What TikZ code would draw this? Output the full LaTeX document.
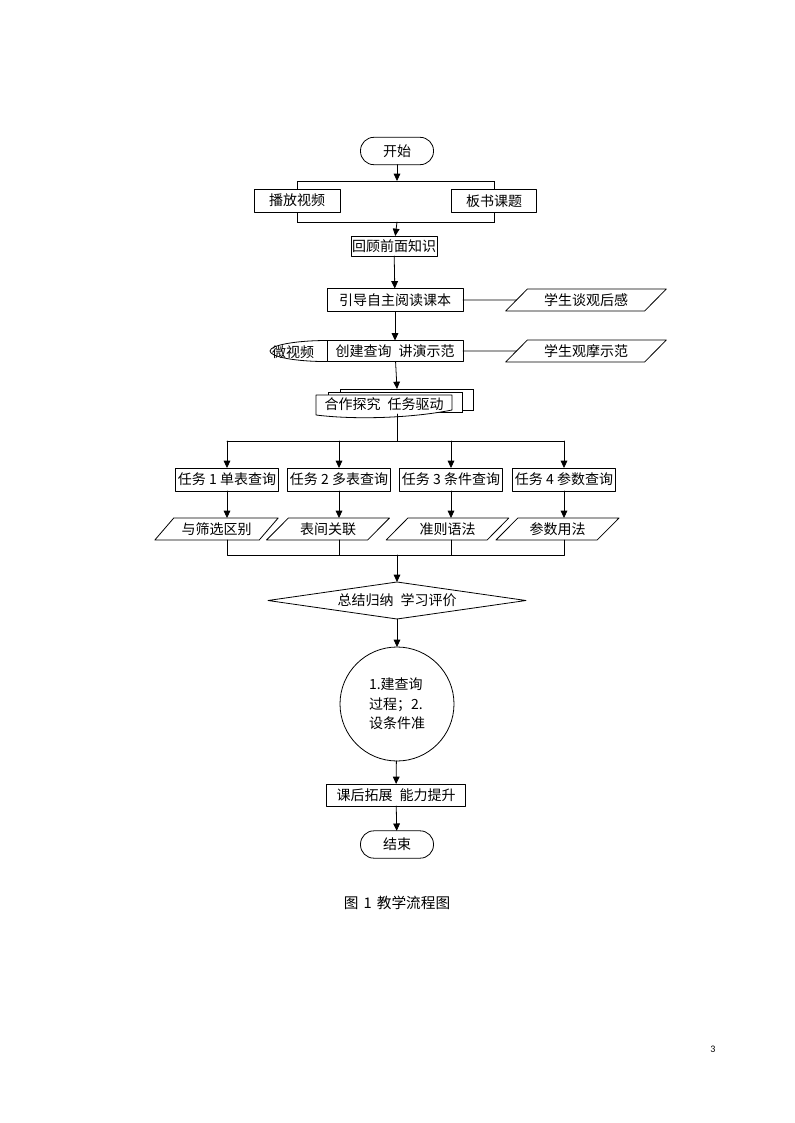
\documentclass[tikz,border=0pt]{standalone}
\usepackage{fontspec}
\setmainfont{Noto Sans CJK SC}
\newfontfamily\pagefont{Carlito}
\usepackage{tikz}
\usetikzlibrary{arrows.meta,positioning,calc,shapes.geometric,backgrounds}
\tikzset{
    every picture/.style={line cap=round,line join=round},
    flowbox/.style={draw,fill=white,line width=0.6pt,
      minimum height=17.25pt,inner sep=0pt,outer sep=0pt},
    termbox/.style={draw,fill=white,line width=0.6pt,rounded corners=10pt,
      minimum width=54.75pt,minimum height=20.5pt,inner sep=0pt,outer sep=0pt},
    slantbox/.style={draw,fill=white,line width=0.6pt,trapezium,
      trapezium left angle=40,trapezium right angle=140,trapezium stretches=true,
      minimum height=16.5pt,inner sep=0pt,outer sep=0pt},
    docbox/.style={minimum width=102pt,minimum height=14.25pt,inner sep=0pt,outer sep=0pt},
    choicebox/.style={draw,fill=white,line width=0.6pt,diamond,aspect=7,
      minimum width=193.5pt,minimum height=27.75pt,inner sep=0pt,outer sep=0pt},
    notebox/.style={draw,fill=white,line width=0.6pt,circle,minimum size=85.5pt,
      inner sep=0pt,outer sep=0pt,align=left,font=\fontsize{10.5}{14.6}\selectfont},
    flowarrow/.style={-{Triangle[length=5.5pt,width=5pt]},line width=0.6pt},
    flowline/.style={line width=0.6pt}
}
\newcommand{\gap}{\hspace{0.5em}}

\begin{document}
\begin{tikzpicture}[x=0.75pt,y=-0.75pt,font=\fontsize{10.5}{12.6}\selectfont]
  \useasboundingbox (0,0) rectangle (794,1123);

  \node[termbox] (start) at (397,151) {开始};
  \coordinate (fork) at (397,181);
  \coordinate (merge) at (397,222);
  \node[flowbox,minimum width=64.5pt] (video) at (297,200.5) {播放视频};
  \node[flowbox,minimum width=64pt] (title) at (494,200.8) {板书课题};
  \node[flowbox,minimum width=64.5pt,minimum height=15pt] (review) at (394,246) {回顾前面知识};
  \node[flowbox,minimum width=102pt] (guide) at (395,300) {引导自主阅读课本};
  \node[slantbox,minimum width=121.5pt] (feel) at (586,300) {学生谈观后感};
  \node[flowbox,minimum width=102pt,minimum height=15.75pt] (demo) at (395,351) {创建查询\gap 讲演示范};
  \node[slantbox,minimum width=121.5pt] (watch) at (586,351) {学生观摩示范};
  \draw[flowline] (demo.north west) arc[start angle=90,end angle=270,x radius=42.75pt,y radius=7.9pt];
  \node (micro) at (293,352) {微视频};

  \coordinate (cooptop) at (397,389);
  \node[docbox] (coop) at (384,404.5) {};
  \coordinate (split) at (397,441);

  \node[flowbox,minimum width=77.25pt] (t1) at (227,479.5) {任务 1 单表查询};
  \node[flowbox,minimum width=77.25pt] (t2) at (339,479.5) {任务 2 多表查询};
  \node[flowbox,minimum width=77.25pt] (t3) at (451,479.5) {任务 3 条件查询};
  \node[flowbox,minimum width=77.25pt] (t4) at (564,479.5) {任务 4 参数查询};
  \node[slantbox,minimum width=92.5pt] (p1) at (216.5,529) {与筛选区别};
  \node[slantbox,minimum width=92.5pt] (p2) at (328,529) {表间关联};
  \node[slantbox,minimum width=92.5pt] (p3) at (447.5,529) {准则语法};
  \node[slantbox,minimum width=92.5pt] (p4) at (557.5,529) {参数用法};
  \coordinate (join) at (397,555);

  \node[choicebox] (sum) at (397,600.5) {总结归纳\gap 学习评价};
  \node[notebox] (key) at (397,704) {1.建查询\\过程；2.\\设条件准};
  \node[flowbox,minimum width=104.25pt,minimum height=16.5pt] (ext) at (396,795) {课后拓展\gap 能力提升};
  \node[termbox] (finish) at (397,844.5) {结束};

  \node[font=\fontsize{11}{13}\selectfont] (cap) at (397,903) {图\hspace{0.35em}1\hspace{0.35em}教学流程图};
  \node[font=\pagefont\fontsize{7.5}{9}\selectfont] (pg) at (713,1049) {3};

  \begin{scope}[on background layer]
    \fill[white] (0,0) rectangle (794,1123);
    \draw[flowline] (video.center |- fork) rectangle (title.center |- merge);
    \draw[flowline,fill=white] ($(coop.north west)+(24,-6)$) rectangle ($(coop.south east)+(21,-4)$);
    \draw[flowline,fill=white] ($(coop.north west)+(12,-3)$) rectangle ($(coop.south east)+(10,-2)$);
  \end{scope}
  \draw[flowline,fill=white] (coop.north west) -- (coop.north east) -- ($(coop.south east)+(0,-4)$)
    .. controls +(-40,8) and +(40,5) .. ($(coop.south west)+(0,1)$) -- cycle;
  \node[docbox] (cooptext) at (coop) {合作探究\gap 任务驱动};

  \draw[flowarrow] (start) -- (fork);
  \draw[flowarrow] (merge) -- (review);
  \draw[flowarrow] (review) -- (guide);
  \draw[flowarrow] (guide) -- (demo);
  \draw[flowarrow] (demo) -- (cooptop);
  \draw[flowline] (guide) -- (feel.west);
  \draw[flowline] (demo) -- (watch.west);
  \draw[flowline] (coop.south -| split) -- (split);
  \draw[flowline] (split -| t1) -- (split -| t4);
  \draw[flowarrow] (split -| t1) -- (t1);
  \draw[flowarrow] (split -| t2) -- (t2);
  \draw[flowarrow] (split -| t3) -- (t3);
  \draw[flowarrow] (split -| t4) -- (t4);
  \draw[flowarrow] (t1) -- (t1 |- p1.north);
  \draw[flowarrow] (t2) -- (t2 |- p2.north);
  \draw[flowarrow] (t3) -- (t3 |- p3.north);
  \draw[flowarrow] (t4) -- (t4 |- p4.north);
  \draw[flowline] (p1.south -| t1) -- (join -| t1) -- (join -| t4) -- (p4.south -| t4);
  \draw[flowline] (p2.south -| t2) -- (join -| t2);
  \draw[flowline] (p3.south -| t3) -- (join -| t3);
  \draw[flowarrow] (join) -- (sum);
  \draw[flowarrow] (sum) -- (key);
  \draw[flowarrow] (key) -- (ext);
  \draw[flowarrow] (ext) -- (finish);
\end{tikzpicture}
\end{document}
